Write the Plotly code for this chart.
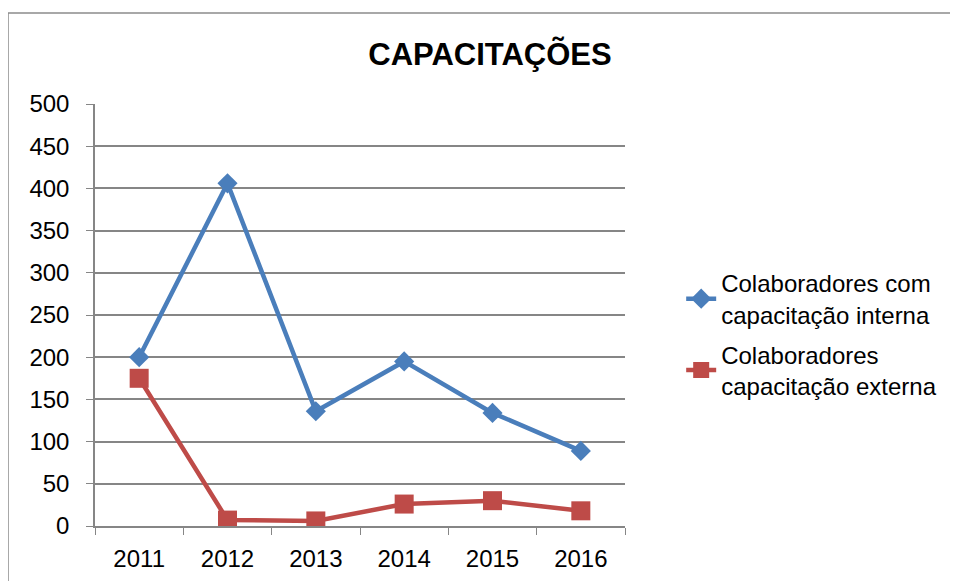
import plotly.graph_objects as go

years = ["2011", "2012", "2013", "2014", "2015", "2016"]
interna = [200, 406, 136, 195, 134, 89]
externa = [175, 7, 6, 26, 30, 18]
name_interna = "Colaboradores com<br>capacitação interna"
name_externa = "Colaboradores<br>capacitação externa"
title_text = "CAPACITAÇÕES"

FONT = "Liberation Sans, Arial, sans-serif"

fig = go.Figure()
fig.add_trace(go.Scatter(
    x=years, y=interna, name=name_interna, mode="lines+markers", legendgroup="a",
    line=dict(color="#4A7EBB", width=4.5),
    marker=dict(symbol="diamond", size=15.5, color="#4A7EBB"),
))
fig.add_trace(go.Scatter(
    x=years, y=externa, name=name_externa, mode="lines+markers", legendgroup="b",
    line=dict(color="#BE4B48", width=4.5),
    marker=dict(symbol="square", size=19, color="#BE4B48"),
))

fig.update_layout(
    width=958, height=581,
    margin=dict(l=87, r=341, t=96, b=63),
    paper_bgcolor="white", plot_bgcolor="white",
    font=dict(family=FONT, size=24, color="black"),
    title=dict(text="<b>" + title_text + "</b>", x=482 / 958, xref="container", xanchor="center",
               y=1 - 46 / 581, yref="container", yanchor="middle",
               font=dict(family=FONT, size=31, color="black")),
    showlegend=True,
    legend=dict(x=1.106, y=0.628, xanchor="left", yanchor="top",
                font=dict(family=FONT, size=24, color="black"),
                bgcolor="rgba(0,0,0,0)", tracegroupgap=6),
    xaxis=dict(type="category", tickson="boundaries", ticks="outside", ticklen=7,
               tickcolor="#868686", showline=True, linecolor="#868686", linewidth=1.5,
               showgrid=False, tickfont=dict(size=24), range=[-0.5, 5.5],
               ticklabelstandoff=10),
    yaxis=dict(range=[0, 500], dtick=50, ticks="outside", ticklen=7, tickcolor="#868686",
               showline=True, linecolor="#868686", linewidth=1.5,
               showgrid=True, gridcolor="#868686", gridwidth=1.5,
               zeroline=False, tickfont=dict(size=24), ticklabelstandoff=12),
)

fig.add_shape(type="rect", xref="paper", yref="paper",
              x0=(0 - 87) / 530, x1=2.0, y0=-0.5, y1=(518 - 5) / 422,
              line=dict(color="#8C8C8C", width=1.5), layer="below")

fig.write_html("out.html")
